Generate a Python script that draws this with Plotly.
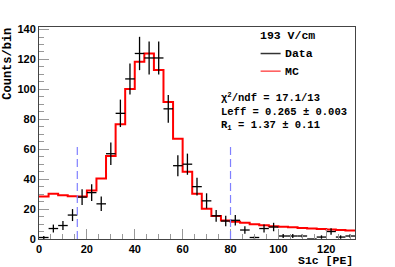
import plotly.graph_objects as go
import numpy as np

# ---- data ----
bin_width = 4
bin_centers = [2, 6, 10, 14, 18, 22, 26, 30, 34, 38, 42, 46, 50, 54, 58, 62, 66,
               70, 74, 78, 82, 86, 90, 94, 98, 102, 106, 110, 114, 118, 122, 126, 130]
data_counts = [1, 7, 9, 16, 28, 31, 23.5, 57, 84, 107, 124, 121, 121, 87, 49, 50, 35,
               25.5, 15.5, 12, 12.5, 6, 1, 7, 8, 2, 2, 2, 0, 1.3, 5, 1.3, 2]
mc_counts = [28.4, 30.2, 29.2, 28.6, 28.4, 32.4, 40.4, 55.5, 76.7, 100.2, 118.4, 124,
             112.9, 91.5, 67, 45, 30.2, 20.2, 15.3, 12.4, 11.5, 10.8, 9.9, 9.2, 8.6,
             8.2, 7.8, 7.4, 7.0, 6.7, 6.3, 6.0, 5.7]
cut_low, cut_high, cut_line_top = 16, 80, 62
x_range = [0, 132]
y_range = [0, 141.7]
x_ticks = [0, 20, 40, 60, 80, 100, 120]
y_ticks = [0, 20, 40, 60, 80, 100, 120, 140]
field_label = "193 V/cm"
fit_lines = ["χ<sup>2</sup>/ndf = 17.1/13", "Leff = 0.265 ± 0.003", "R<sub>1</sub> = 1.37 ± 0.11"]

centers = np.array(bin_centers, dtype=float)
data = np.array(data_counts, dtype=float)
mc = np.array(mc_counts, dtype=float)
edges = np.append(centers - bin_width / 2, centers[-1] + bin_width / 2)
mc_step = np.append(mc, mc[-1])

MONO = "Liberation Mono"

fig = go.Figure()
fig.add_trace(go.Scatter(
    x=edges, y=mc_step, mode="lines", line=dict(shape="hv", color="#ff0000", width=2),
    showlegend=False, hoverinfo="skip"))
fig.add_trace(go.Scatter(
    x=centers, y=data, mode="markers", marker=dict(size=1, color="rgba(0,0,0,0)"),
    error_x=dict(type="constant", value=bin_width / 2, color="black", thickness=1.3, width=0),
    error_y=dict(type="data", array=np.sqrt(data), color="black", thickness=1.3, width=0),
    showlegend=False))

for xc in (cut_low, cut_high):
    fig.add_shape(type="line", x0=xc, x1=xc, y0=0, y1=cut_line_top, xref="x", yref="y",
                  line=dict(color="#8080ff", width=1.2, dash="8px,4px"))

axis_common = dict(showline=True, linecolor="#444", linewidth=1, mirror=True,
                   ticks="inside", ticklen=10, tickcolor="#999", tickwidth=1.3,
                   showgrid=False, zeroline=False,
                   tickfont=dict(family="Liberation Sans", size=11, color="black", weight="bold"))
fig.update_xaxes(range=x_range, tickvals=x_ticks, **axis_common,
                 minor=dict(dtick=5, ticklen=5, tickcolor="#999", ticks="inside", tick0=0))
fig.update_yaxes(range=y_range, tickvals=y_ticks, **axis_common,
                 minor=dict(dtick=5, ticklen=5, tickcolor="#999", ticks="inside", tick0=0))

W, H = 395, 267
L, R, T, B = 39.3, 355, 26.7, 239.3   # plot frame in page pixels
pw, ph = R - L, B - T
def px(x): return (x - L) / pw
def py(y): return (B - y) / ph

ann = []
ann.append(dict(text="<b>Counts/bin</b>", x=0, xref="paper", xshift=-31, y=py(63.5), yref="paper",
                yanchor="middle", xanchor="center", textangle=-90, showarrow=False,
                font=dict(family=MONO, size=12, color="black")))
ann.append(dict(text="<b>S1c [PE]</b>", x=1, xref="paper", xanchor="right", y=0, yref="paper",
                yshift=-21.5, yanchor="middle", showarrow=False,
                font=dict(family=MONO, size=11.5, color="black")))
ann.append(dict(text="<b>" + field_label + "</b>", x=px(288), y=py(35.7), xref="paper", yref="paper",
                xanchor="center", yanchor="middle", showarrow=False,
                font=dict(family=MONO, size=11.5, color="black")))
ann.append(dict(text="<b>Data</b>", x=px(283.3), y=py(53.3), xref="paper", yref="paper",
                xanchor="left", yanchor="middle", showarrow=False,
                font=dict(family=MONO, size=11.5, color="black")))
ann.append(dict(text="<b>MC</b>", x=px(283.3), y=py(71), xref="paper", yref="paper",
                xanchor="left", yanchor="middle", showarrow=False,
                font=dict(family=MONO, size=11.5, color="black")))
for txt, yy in zip(fit_lines, [97.7, 112.3, 125.7]):
    ann.append(dict(text="<b>" + txt + "</b>", x=px(219.5), y=py(yy), xref="paper", yref="paper",
                    xanchor="left", yanchor="middle", showarrow=False,
                    font=dict(family=MONO, size=10.5, color="black")))

fig.add_shape(type="line", x0=px(260.7), x1=px(280.7), y0=py(53.3), y1=py(53.3),
              xref="paper", yref="paper", line=dict(color="#333", width=1.5))
fig.add_shape(type="line", x0=px(260.7), x1=px(280.7), y0=py(71), y1=py(71),
              xref="paper", yref="paper", line=dict(color="#ff5555", width=1.5))

fig.update_layout(width=W, height=H,
                  margin=dict(l=L, r=W - R, t=T, b=H - B, pad=0),
                  paper_bgcolor="white", plot_bgcolor="white", annotations=ann)
fig.write_html("out.html", config={"displayModeBar": False},
               post_script="document.body.style.margin='0';document.body.style.overflow='hidden';")
